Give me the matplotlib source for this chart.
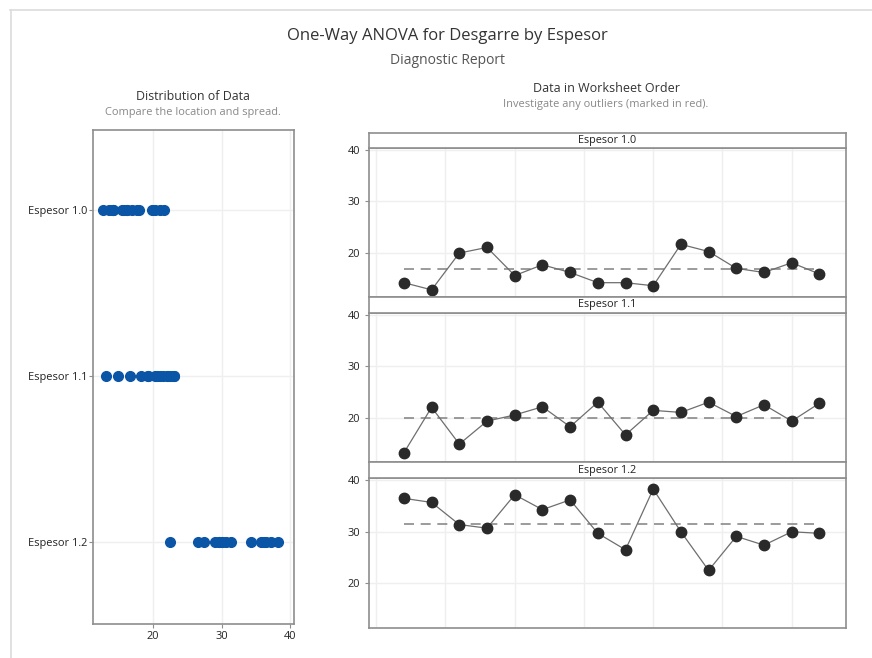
import matplotlib
matplotlib.use("Agg")
import matplotlib.pyplot as plt
from matplotlib.lines import Line2D
import numpy as np

plt.rcParams['font.family'] = ['Open Sans', 'DejaVu Sans']

# Desgarre measurements by thickness group, in worksheet order
groups = ["Espesor 1.0", "Espesor 1.1", "Espesor 1.2"]
espesor_10 = [14.1, 12.7, 19.9, 21.0, 15.5, 17.6, 16.1, 14.1,
              14.1, 13.5, 21.6, 20.2, 16.9, 16.1, 18.0, 15.8]
espesor_11 = [13.1, 22.0, 14.8, 19.3, 20.5, 22.1, 18.2, 23.0,
              16.6, 21.4, 21.0, 23.0, 20.2, 22.5, 19.3, 22.8]
espesor_12 = [36.5, 35.7, 31.4, 30.7, 37.2, 34.3, 36.2, 29.7,
              26.5, 38.3, 30.0, 22.5, 29.1, 27.4, 30.0, 29.7]
series = [espesor_10, espesor_11, espesor_12]
dist_ticks = [20, 30, 40]
order_ticks = [20, 30, 40]

W, H = 872, 658
fig = plt.figure(figsize=(W / 100, H / 100), dpi=100)
fig.patch.set_facecolor("white")


def box(x0, y0, x1, y1):
    """Axes rectangle from pixel coordinates (top-left origin)."""
    return [x0 / W, 1 - y1 / H, (x1 - x0) / W, (y1 - y0) / H]


# light page frame
fig.add_artist(Line2D([10 / W, 1], [1 - 10 / H, 1 - 10 / H], color="#dcdcdc", lw=1.2))
fig.add_artist(Line2D([11 / W, 11 / W], [0, 1 - 10 / H], color="#dcdcdc", lw=1.2))

# titles
fig.text(447 / W, 1 - 36 / H, "One-Way ANOVA for Desgarre by Espesor",
         ha="center", va="center", fontsize=12, color="#333333")
fig.text(447 / W, 1 - 60 / H, "Diagnostic Report",
         ha="center", va="center", fontsize=10, color="#555555")
fig.text(193 / W, 1 - 96 / H, "Distribution of Data",
         ha="center", va="center", fontsize=8.9, color="#333333")
fig.text(193 / W, 1 - 113 / H, "Compare the location and spread.",
         ha="center", va="center", fontsize=7.9, color="#888888")
fig.text(606 / W, 1 - 89 / H, "Data in Worksheet Order",
         ha="center", va="center", fontsize=9, color="#333333")
fig.text(606 / W, 1 - 105 / H, "Investigate any outliers (marked in red).",
         ha="center", va="center", fontsize=7.9, color="#888888")

spine_col = "#8e8e8e"
grid_col = "#efefef"
blue = "#0a55a6"

# ---- distribution of data (individual values) ----
ax = fig.add_axes(box(93, 130, 294, 624))
for i, vals in enumerate(series):
    ax.plot(vals, [i] * len(vals), "o", color=blue, ms=7, mec=blue, zorder=3)
ax.set_ylim(2.494, -0.482)
ax.set_xlim(11.2, 40.6)
ax.set_yticks(range(len(groups)))
ax.set_yticklabels(groups)
ax.set_xticks(dist_ticks)
ax.grid(True, color=grid_col, lw=1)
ax.set_axisbelow(True)
for s in ax.spines.values():
    s.set_color(spine_col)
    s.set_linewidth(1.2)
ax.tick_params(axis="both", labelsize=7.9, colors="#222222", length=3,
               color=spine_col, width=0.8)
ax.tick_params(axis="y", pad=1)
ax.tick_params(axis="x", pad=2)

# ---- data in worksheet order ----
panels = [(148, 297, 133), (313, 462, 297), (478, 628, 462)]
for vals, name, (top, bot, stop) in zip(series, groups, panels):
    idx = np.arange(1, len(vals) + 1)
    a = fig.add_axes(box(369, top, 846, bot))
    a.plot(idx, vals, "-", color="#6e6e6e", lw=0.9, zorder=2)
    a.plot(idx, vals, "o", color="#2a2a2a", ms=7.5, zorder=3)
    m = np.mean(vals)
    a.plot([idx[0], idx[-1]], [m, m], "--", color="#8a8a8a", lw=1.2,
           dashes=(6, 4), zorder=1)
    a.set_xlim(-0.26, 16.96)
    a.set_ylim(11.3, 40.45)
    a.set_xticks(np.arange(0, 16, 2.5))
    a.set_xticklabels([])
    a.tick_params(axis="x", length=0)
    a.set_yticks(order_ticks)
    a.tick_params(axis="y", labelsize=7.9, colors="#222222", length=3,
                  color=spine_col, width=0.8)
    a.grid(True, color=grid_col, lw=1)
    a.set_axisbelow(True)
    for s in a.spines.values():
        s.set_color(spine_col)
        s.set_linewidth(1.2)
    # panel header strip
    st = fig.add_axes(box(369, stop, 846, top))
    st.set_xticks([])
    st.set_yticks([])
    for s in st.spines.values():
        s.set_color(spine_col)
        s.set_linewidth(1.2)
    st.text(0.5, 0.5, name, ha="center", va="center", fontsize=7.8,
            color="#222222", transform=st.transAxes)

fig.savefig("out.png", dpi=100, facecolor="white")
